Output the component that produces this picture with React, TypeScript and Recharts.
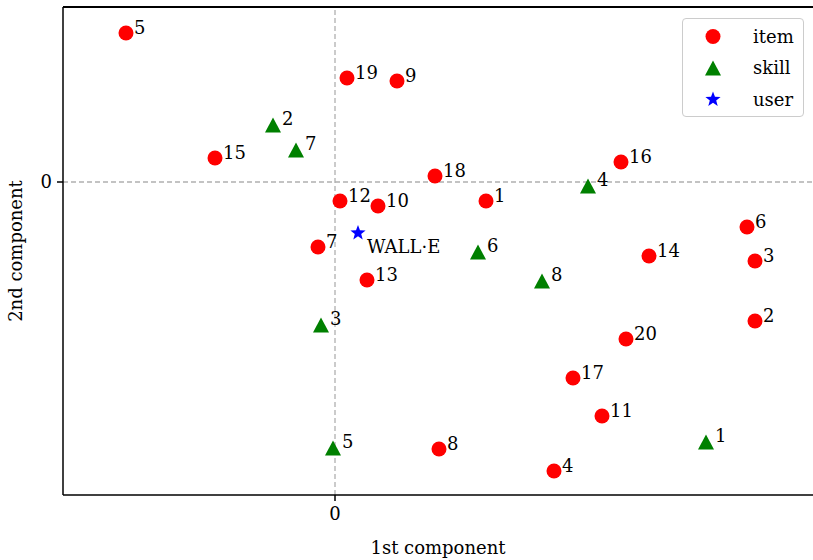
import React from 'react';
import { ScatterChart, Scatter, XAxis, YAxis, ReferenceLine, Legend } from 'recharts';

const itemLabels = ['5', '19', '9', '15', '18', '16', '12', '10', '1', '6', '7', '14', '3', '13', '2', '20', '17', '11', '8', '4'];
const itemX = [-2.09, 0.12, 0.62, -1.2, 1.0, 2.86, 0.05, 0.43, 1.51, 4.12, -0.17, 3.14, 4.2, 0.32, 4.2, 2.91, 2.38, 2.67, 1.04, 2.19];
const itemY = [1.49, 1.04, 1.01, 0.24, 0.06, 0.2, -0.19, -0.24, -0.19, -0.45, -0.65, -0.74, -0.79, -0.98, -1.39, -1.57, -1.96, -2.34, -2.67, -2.89];

const skillLabels = ['2', '7', '4', '6', '8', '3', '5', '1'];
const skillX = [-0.62, -0.39, 2.53, 1.43, 2.07, -0.14, -0.02, 3.71];
const skillY = [0.57, 0.32, -0.04, -0.7, -0.99, -1.43, -2.66, -2.6];

const userLabels = ['WALL·E'];
const userX = [0.23];
const userY = [-0.51];

const xTicks = [0];
const yTicks = [0];

const X_DOMAIN = [-2.72, 4.78];
const Y_DOMAIN = [-3.13, 1.75];

const FONT = '"DejaVu Serif", serif';
const FS = 18;

const toRows = (labels: string[], xs: number[], ys: number[]) =>
  labels.map((label, i) => ({ label, x: xs[i], y: ys[i] }));

const items = toRows(itemLabels, itemX, itemY);
const skills = toRows(skillLabels, skillX, skillY);
const users = toRows(userLabels, userX, userY);

const starPath = (cx: number, cy: number, R: number) => {
  const r = R * 0.42;
  const pts: string[] = [];
  for (let i = 0; i < 10; i++) {
    const a = -Math.PI / 2 + (i * Math.PI) / 5;
    const rad = i % 2 === 0 ? R : r;
    pts.push(`${cx + rad * Math.cos(a)},${cy + rad * Math.sin(a)}`);
  }
  return `M${pts.join('L')}Z`;
};

const triPath = (cx: number, cy: number) =>
  `M${cx},${cy - 7.5}L${cx + 8},${cy + 7.5}L${cx - 8},${cy + 7.5}Z`;

const CircleShape = (props: any) => {
  const { cx, cy, payload } = props;
  return (
    <g>
      <circle cx={cx} cy={cy} r={7.5} fill="#ff0000" />
      <text x={cx + 8} y={cy + 1} fontSize={FS} fontFamily={FONT} fill="#000">
        {payload.label}
      </text>
    </g>
  );
};

const TriShape = (props: any) => {
  const { cx, cy, payload } = props;
  return (
    <g>
      <path d={triPath(cx, cy)} fill="#008000" />
      <text x={cx + 9} y={cy} fontSize={FS} fontFamily={FONT} fill="#000">
        {payload.label}
      </text>
    </g>
  );
};

const StarShape = (props: any) => {
  const { cx, cy, payload } = props;
  return (
    <g>
      <path d={starPath(cx, cy, 8)} fill="#0000ff" />
      <text x={cx + 9} y={cy + 20} fontSize={FS} fontFamily={FONT} fill="#000">
        {payload.label}
      </text>
    </g>
  );
};

const legendEntries = [
  { name: 'item', kind: 'circle' },
  { name: 'skill', kind: 'tri' },
  { name: 'user', kind: 'star' },
];

const LegendBox = () => (
  <div
    style={{
      width: 122,
      height: 99,
      border: '1.5px solid #cccccc',
      borderRadius: 4,
      background: '#ffffff',
      boxSizing: 'border-box',
      position: 'relative',
    }}
  >
    <svg width={122} height={99} style={{ position: 'absolute', left: -1.5, top: -1.5 }}>
      {legendEntries.map((e, i) => {
        const cy = 18.5 + i * 31.5;
        const cx = 31;
        return (
          <g key={e.name}>
            {e.kind === 'circle' && <circle cx={cx} cy={cy} r={7.5} fill="#ff0000" />}
            {e.kind === 'tri' && <path d={triPath(cx, cy)} fill="#008000" />}
            {e.kind === 'star' && <path d={starPath(cx, cy, 8)} fill="#0000ff" />}
            <text x={71} y={cy + 6} fontSize={FS} fontFamily={FONT} fill="#000">
              {e.name}
            </text>
          </g>
        );
      })}
    </svg>
  </div>
);

export default function App() {
  return (
    <div style={{ position: 'absolute', left: 0, top: 0, width: 813, height: 560, background: '#fff' }}>
      <ScatterChart width={813} height={560} margin={{ top: 7, right: 0, bottom: 0, left: 0 }}>
        <XAxis
          type="number"
          dataKey="x"
          domain={X_DOMAIN}
          ticks={xTicks}
          allowDataOverflow
          height={65}
          stroke="#000"
          strokeWidth={1.5}
          tickSize={6}
          tick={{ fontSize: FS, fontFamily: FONT, fill: '#000', dy: 4 }}
          tickFormatter={(v: number) => String(v)}
          label={{
            content: () => (
              <text x={438} y={554} textAnchor="middle" fontSize={FS} fontFamily={FONT} fill="#000">
                1st component
              </text>
            ),
          }}
        />
        <YAxis
          type="number"
          dataKey="y"
          domain={Y_DOMAIN}
          ticks={yTicks}
          allowDataOverflow
          width={63}
          stroke="#000"
          strokeWidth={1.5}
          tickSize={6}
          tick={{ fontSize: FS, fontFamily: FONT, fill: '#000', dx: -3 }}
          tickFormatter={(v: number) => String(v)}
          label={{
            content: () => (
              <text
                x={22}
                y={251}
                textAnchor="middle"
                fontSize={FS}
                fontFamily={FONT}
                fill="#000"
                transform="rotate(-90 22 251)"
              >
                2nd component
              </text>
            ),
          }}
        />
        <ReferenceLine y={Y_DOMAIN[1]} stroke="#000" strokeWidth={2} />
        <ReferenceLine x={0} stroke="#b0b0b0" strokeWidth={1.3} strokeDasharray="5 3" />
        <ReferenceLine y={0} stroke="#b0b0b0" strokeWidth={1.3} strokeDasharray="5 3" />
        <Scatter name="item" data={items} shape={CircleShape} isAnimationActive={false} />
        <Scatter name="skill" data={skills} shape={TriShape} isAnimationActive={false} />
        <Scatter name="user" data={users} shape={StarShape} isAnimationActive={false} />
        <Legend
          layout="vertical"
          align="center"
          verticalAlign="middle"
          content={() => <LegendBox />}
          wrapperStyle={{ position: 'absolute', left: 682, top: 18, width: 122, height: 99 }}
        />
      </ScatterChart>
    </div>
  );
}
